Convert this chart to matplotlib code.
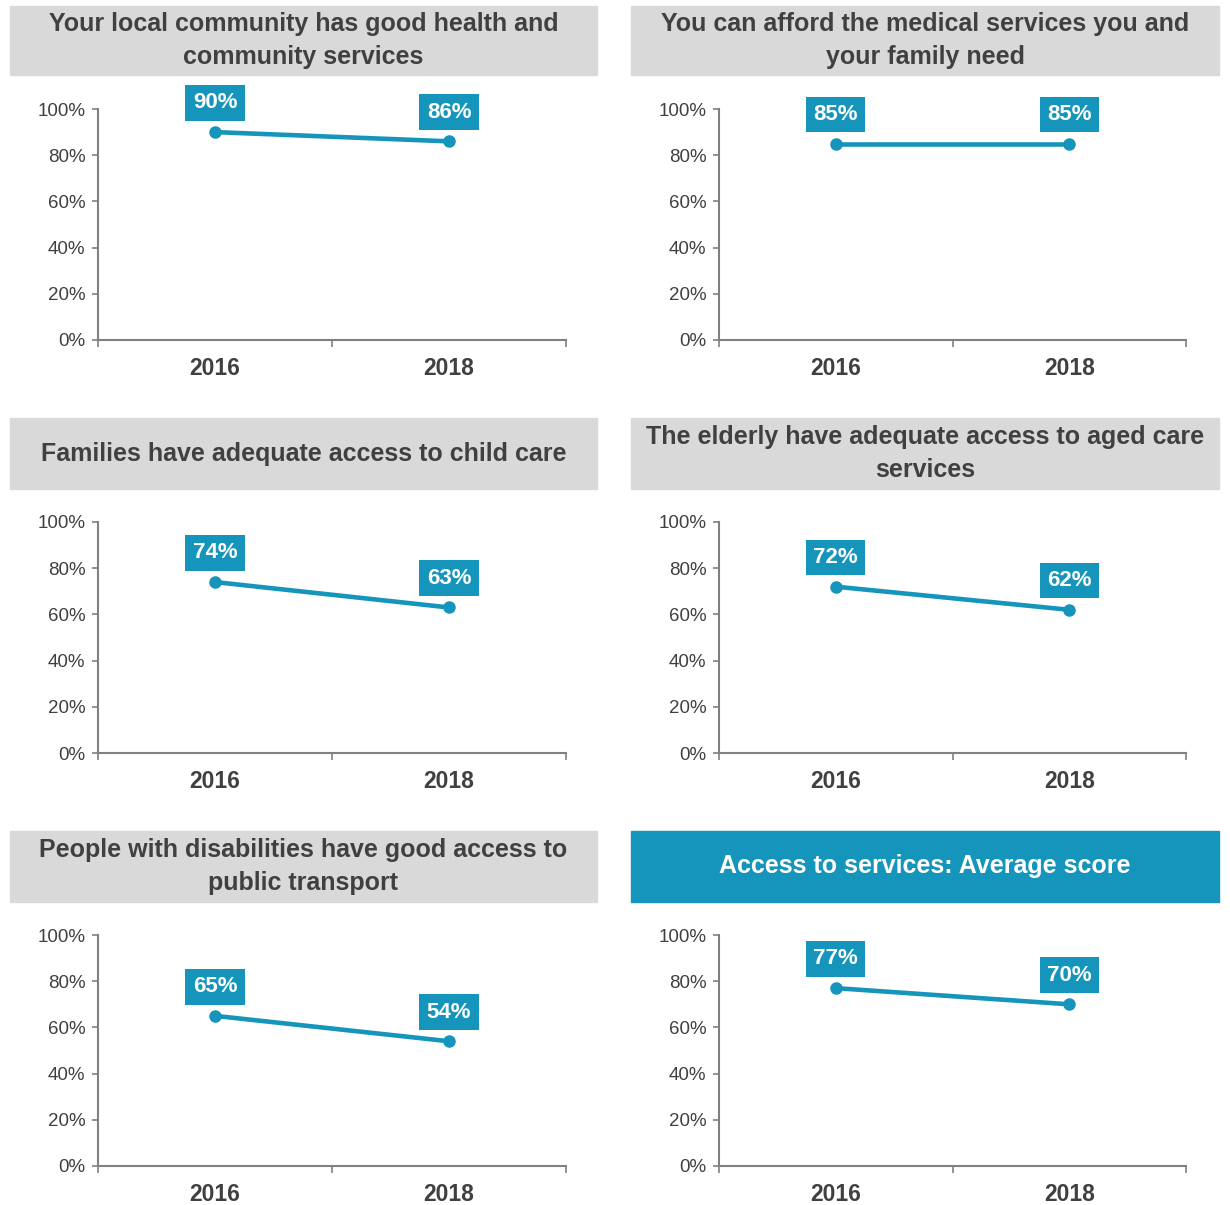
import matplotlib

matplotlib.use("Agg")
import matplotlib.pyplot as plt
from matplotlib.patches import Rectangle

plt.rcParams["font.family"] = ["Liberation Sans", "DejaVu Sans"]

TEAL = "#1595bb"
GREY_BOX = "#d9d9d9"
TEXT = "#404040"
AXIS = "#808080"

W, H = 1230, 1205

years = ["2016", "2018"]
titles = [
    "Your local community has good health and\ncommunity services",
    "You can afford the medical services you and\nyour family need",
    "Families have adequate access to child care",
    "The elderly have adequate access to aged care\nservices",
    "People with disabilities have good access to\npublic transport",
    "Access to services: Average score",
]
values = [
    [90, 86],
    [85, 85],
    [74, 63],
    [72, 62],
    [65, 54],
    [77, 70],
]
highlight = [False, False, False, False, False, True]

# pixel layout: title boxes and axes per column / row
col_box = [(10, 597), (631, 1219)]
col_ax = [(98, 566), (719, 1186)]
row_box = [(6, 75), (418, 489), (831, 902)]
row_ax = [(109, 340), (522, 753), (935, 1166)]


def fx(px):
    return px / W


def fy(py):
    return 1 - py / H


fig = plt.figure(figsize=(W / 100, H / 100), dpi=100)

for i, (title, vals) in enumerate(zip(titles, values)):
    r, c = divmod(i, 2)
    bx0, bx1 = col_box[c]
    by0, by1 = row_box[r]
    fill = TEAL if highlight[i] else GREY_BOX
    tcol = "white" if highlight[i] else TEXT
    fig.patches.append(Rectangle((fx(bx0), fy(by1)), fx(bx1 - bx0), (by1 - by0) / H,
                                 transform=fig.transFigure, color=fill, zorder=0))
    fig.text(fx((bx0 + bx1) / 2), fy((by0 + by1) / 2), title, ha="center", va="center",
             fontsize=18, fontweight="bold", color=tcol, linespacing=1.5)

    ax0, ax1 = col_ax[c]
    ay0, ay1 = row_ax[r]
    ax = fig.add_axes([fx(ax0), fy(ay1), fx(ax1 - ax0), (ay1 - ay0) / H])
    xs = [0.5, 1.5]
    ax.plot(xs, vals, color=TEAL, lw=3.3, marker="o", ms=8, solid_capstyle="round",
            clip_on=False, zorder=3)
    for x, v in zip(xs, vals):
        ax.annotate(f"{v}%", (x, v), xytext=(0, 21), textcoords="offset points",
                    ha="center", va="center", fontsize=16, fontweight="bold",
                    color="white", annotation_clip=False,
                    bbox=dict(boxstyle="square,pad=0.33", fc=TEAL, ec="none"))

    ax.set_xlim(0, 2)
    ax.set_ylim(0, 100)
    ax.set_yticks(range(0, 101, 20))
    ax.set_yticklabels([f"{t}%" for t in range(0, 101, 20)])
    ax.set_xticks(xs)
    ax.set_xticklabels(years)
    ax.set_xticks([0, 1, 2], minor=True)
    for s in ("top", "right"):
        ax.spines[s].set_visible(False)
    for s in ("left", "bottom"):
        ax.spines[s].set_color(AXIS)
        ax.spines[s].set_linewidth(1.5)
    ax.tick_params(axis="y", length=4, width=1.2, color=AXIS, labelsize=13.5,
                   labelcolor=TEXT, pad=5)
    ax.tick_params(axis="x", which="major", length=0, labelsize=16.5, labelcolor=TEXT, pad=12)
    ax.tick_params(axis="x", which="minor", length=5, width=1.2, color=AXIS)
    for lab in ax.get_xticklabels():
        lab.set_fontweight("bold")

fig.savefig("out.png", dpi=100)
